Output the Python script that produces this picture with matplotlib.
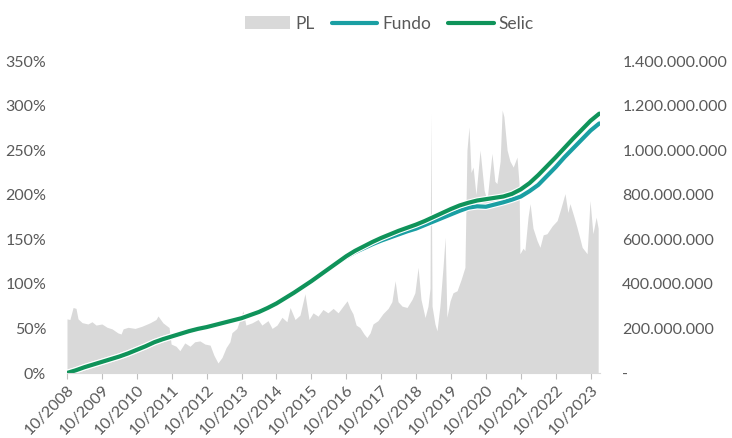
import matplotlib
matplotlib.use("Agg")
import matplotlib.pyplot as plt
import matplotlib.patheffects as pe
import numpy as np

plt.rcParams['font.family'] = ['Lato', 'DejaVu Sans']

# meses desde 10/2008 (trimestral, 0 a 183)
meses_linhas = list(range(0, 184, 3))
selic = [0, 3, 6.5, 9.5, 12.5, 15.5, 18.5, 22, 26, 30, 34.5, 38, 41, 44, 47, 49.5,
         51.5, 54, 56.5, 59, 61.5, 65, 68.5, 73, 78, 84, 90, 96.5, 103, 110, 117, 124,
         131, 137, 142, 147, 151.5, 155.5, 159.5, 163, 166.5, 170.5, 175, 179.5, 184,
         188, 191, 193.5, 195, 196.5, 198, 201, 206, 213, 222, 232, 242, 252.5, 263,
         273, 283, 291]
fundo = [0, 3, 6.5, 9.5, 12.5, 15.5, 18.5, 22, 26, 30, 34.5, 38, 41, 44, 47, 49.5,
         51.5, 54, 56.5, 59, 61.5, 65, 68.5, 73, 78, 84, 90, 96.5, 103, 110, 117, 124,
         130, 135.5, 140, 144.5, 148.5, 152, 155.5, 159, 162, 166, 170, 174, 178,
         182, 185.5, 187, 186.5, 189, 191.5, 194.5, 198, 204, 211, 221, 231, 242, 252,
         262, 272, 280]

# PL em milhoes de reais
meses_pl = [0.0, 1.0, 2.1, 3.1, 3.8, 5.2, 7.2, 8.6, 10.0, 12.0, 13.8, 15.5, 17.5, 18.6,
            19.3, 21.0, 23.4, 25.8, 28.5, 30.6, 31.3, 33.0, 35.1, 35.8, 37.5, 38.8,
            40.5, 42.3, 43.9, 45.7, 47.4, 49.2, 50.5, 51.9, 53.3, 54.7, 56.0, 56.7,
            58.4, 60.5, 61.5, 63.6, 65.7, 67.0, 69.1, 70.5, 72.2, 73.9, 75.6, 76.7,
            78.4, 80.1, 81.8, 83.2, 84.6, 86.3, 88.0, 89.7, 91.5, 93.2, 94.9, 96.3,
            97.3, 98.3, 99.4, 100.7, 102.1, 103.1, 104.2, 105.2, 106.9, 108.6, 110.4,
            111.7, 112.8, 113.8, 115.2, 116.9, 118.6, 119.6, 120.7, 121.7, 123.1,
            124.1, 124.8, 125.1, 125.5, 126.5, 127.2, 128.2, 129.3, 130.0, 130.6,
            131.7, 132.7, 134.1, 135.5, 136.8, 137.5, 138.2, 138.9, 139.6, 140.6,
            142.0, 143.4, 144.4, 145.4, 146.1, 147.1, 147.8, 148.9, 149.6, 150.2,
            151.3, 152.3, 153.4, 154.7, 155.4, 155.7, 156.8, 157.4, 158.5, 159.2,
            160.2, 161.6, 162.6, 163.7, 165.0, 166.8, 168.5, 169.8, 171.2, 172.2,
            172.9, 174.3, 175.3, 176.4, 177.1, 178.8, 179.8, 180.8, 181.9, 182.6]
pl = [243, 240, 294, 290, 243, 226, 220, 230, 215, 220, 205, 198, 180, 175,
      198, 205, 200, 210, 225, 240, 256, 225, 204, 130, 120, 100,
      135, 120, 140, 144, 130, 125, 80, 45, 70, 114, 140, 181,
      200, 279, 215, 225, 240, 215, 235, 200, 215, 250, 230, 294,
      240, 260, 356, 240, 270, 255, 285, 270, 290, 270, 300, 324,
      290, 266, 215, 204, 175, 159, 180, 220, 235, 266, 290,
      320, 414, 320, 300, 294, 330, 360, 474, 330, 249,
      300, 380, 1166, 300, 220, 189, 300, 480, 609, 250,
      324, 360, 369, 420, 474, 1000, 1104, 900, 924, 800,
      1000, 820, 774, 900, 985, 860, 850, 950, 1180, 1150,
      1000, 950, 924, 969, 850, 535, 560, 549, 700, 760,
      650, 594, 564, 620, 625, 660, 684, 740, 805, 720,
      760, 700, 654, 600, 564, 535, 774, 625, 699, 650]

anos = ["10/%d" % a for a in range(2008, 2024)]

cinza_txt = '#595959'

fig = plt.figure(figsize=(7.32, 4.38), dpi=100)
ax = fig.add_axes([0.0915, 0.1484, 0.7282, 0.7123])
ax2 = ax.twinx()

# area do PL no eixo da direita
x_pl = np.array(meses_pl) / 12
ax2.fill_between(x_pl, 0, np.array(pl) * 1e6, color='#d9d9d9', linewidth=0, label='PL')
ax2.set_ylim(0, 1.4e9)
ax2.set_yticks(np.arange(0, 1.4e9 + 1, 2e8))
ax2.set_yticklabels(['-'] + ['{:,.0f}'.format(v).replace(',', '.') for v in np.arange(2e8, 1.4e9 + 1, 2e8)])

# linhas no eixo da esquerda
x_l = np.array(meses_linhas) / 12
borda = [pe.Stroke(linewidth=4.6, foreground='white'), pe.Normal()]
ax.plot(x_l, fundo, color='#1a9fa3', linewidth=3, label='Fundo', path_effects=borda, solid_capstyle='round')
ax.plot(x_l, selic, color='#0f935a', linewidth=3, label='Selic', path_effects=borda, solid_capstyle='round')
ax.set_zorder(ax2.get_zorder() + 1)
ax.patch.set_visible(False)

ax.set_ylim(0, 350)
ax.set_yticks(range(0, 351, 50))
ax.set_yticklabels(['%d%%' % v for v in range(0, 351, 50)])
ax.set_xlim(0, 15.27)
ax.set_xticks(range(16))
ax.set_xticklabels(anos, rotation=45, ha='right', rotation_mode='anchor')

for a in (ax, ax2):
    for s in a.spines.values():
        s.set_visible(False)
    a.tick_params(axis='y', length=0, labelsize=11.5, labelcolor=cinza_txt)
ax.tick_params(axis='y', pad=15)
ax2.tick_params(axis='y', pad=16)
ax.tick_params(axis='x', length=4, color='#bfbfbf', labelsize=11.5, labelcolor=cinza_txt, pad=3)
ax.spines['bottom'].set_visible(True)
ax.spines['bottom'].set_color('#d9d9d9')

h2, l2 = ax2.get_legend_handles_labels()
h1, l1 = ax.get_legend_handles_labels()
fig.legend(h2 + h1, l2 + l1, loc='upper center', bbox_to_anchor=(0.532, 1.0), ncol=3,
           frameon=False, fontsize=12.5, labelcolor=cinza_txt, handlelength=2.6,
           handletextpad=0.3, columnspacing=1.0)

fig.savefig('out.png', dpi=100)
